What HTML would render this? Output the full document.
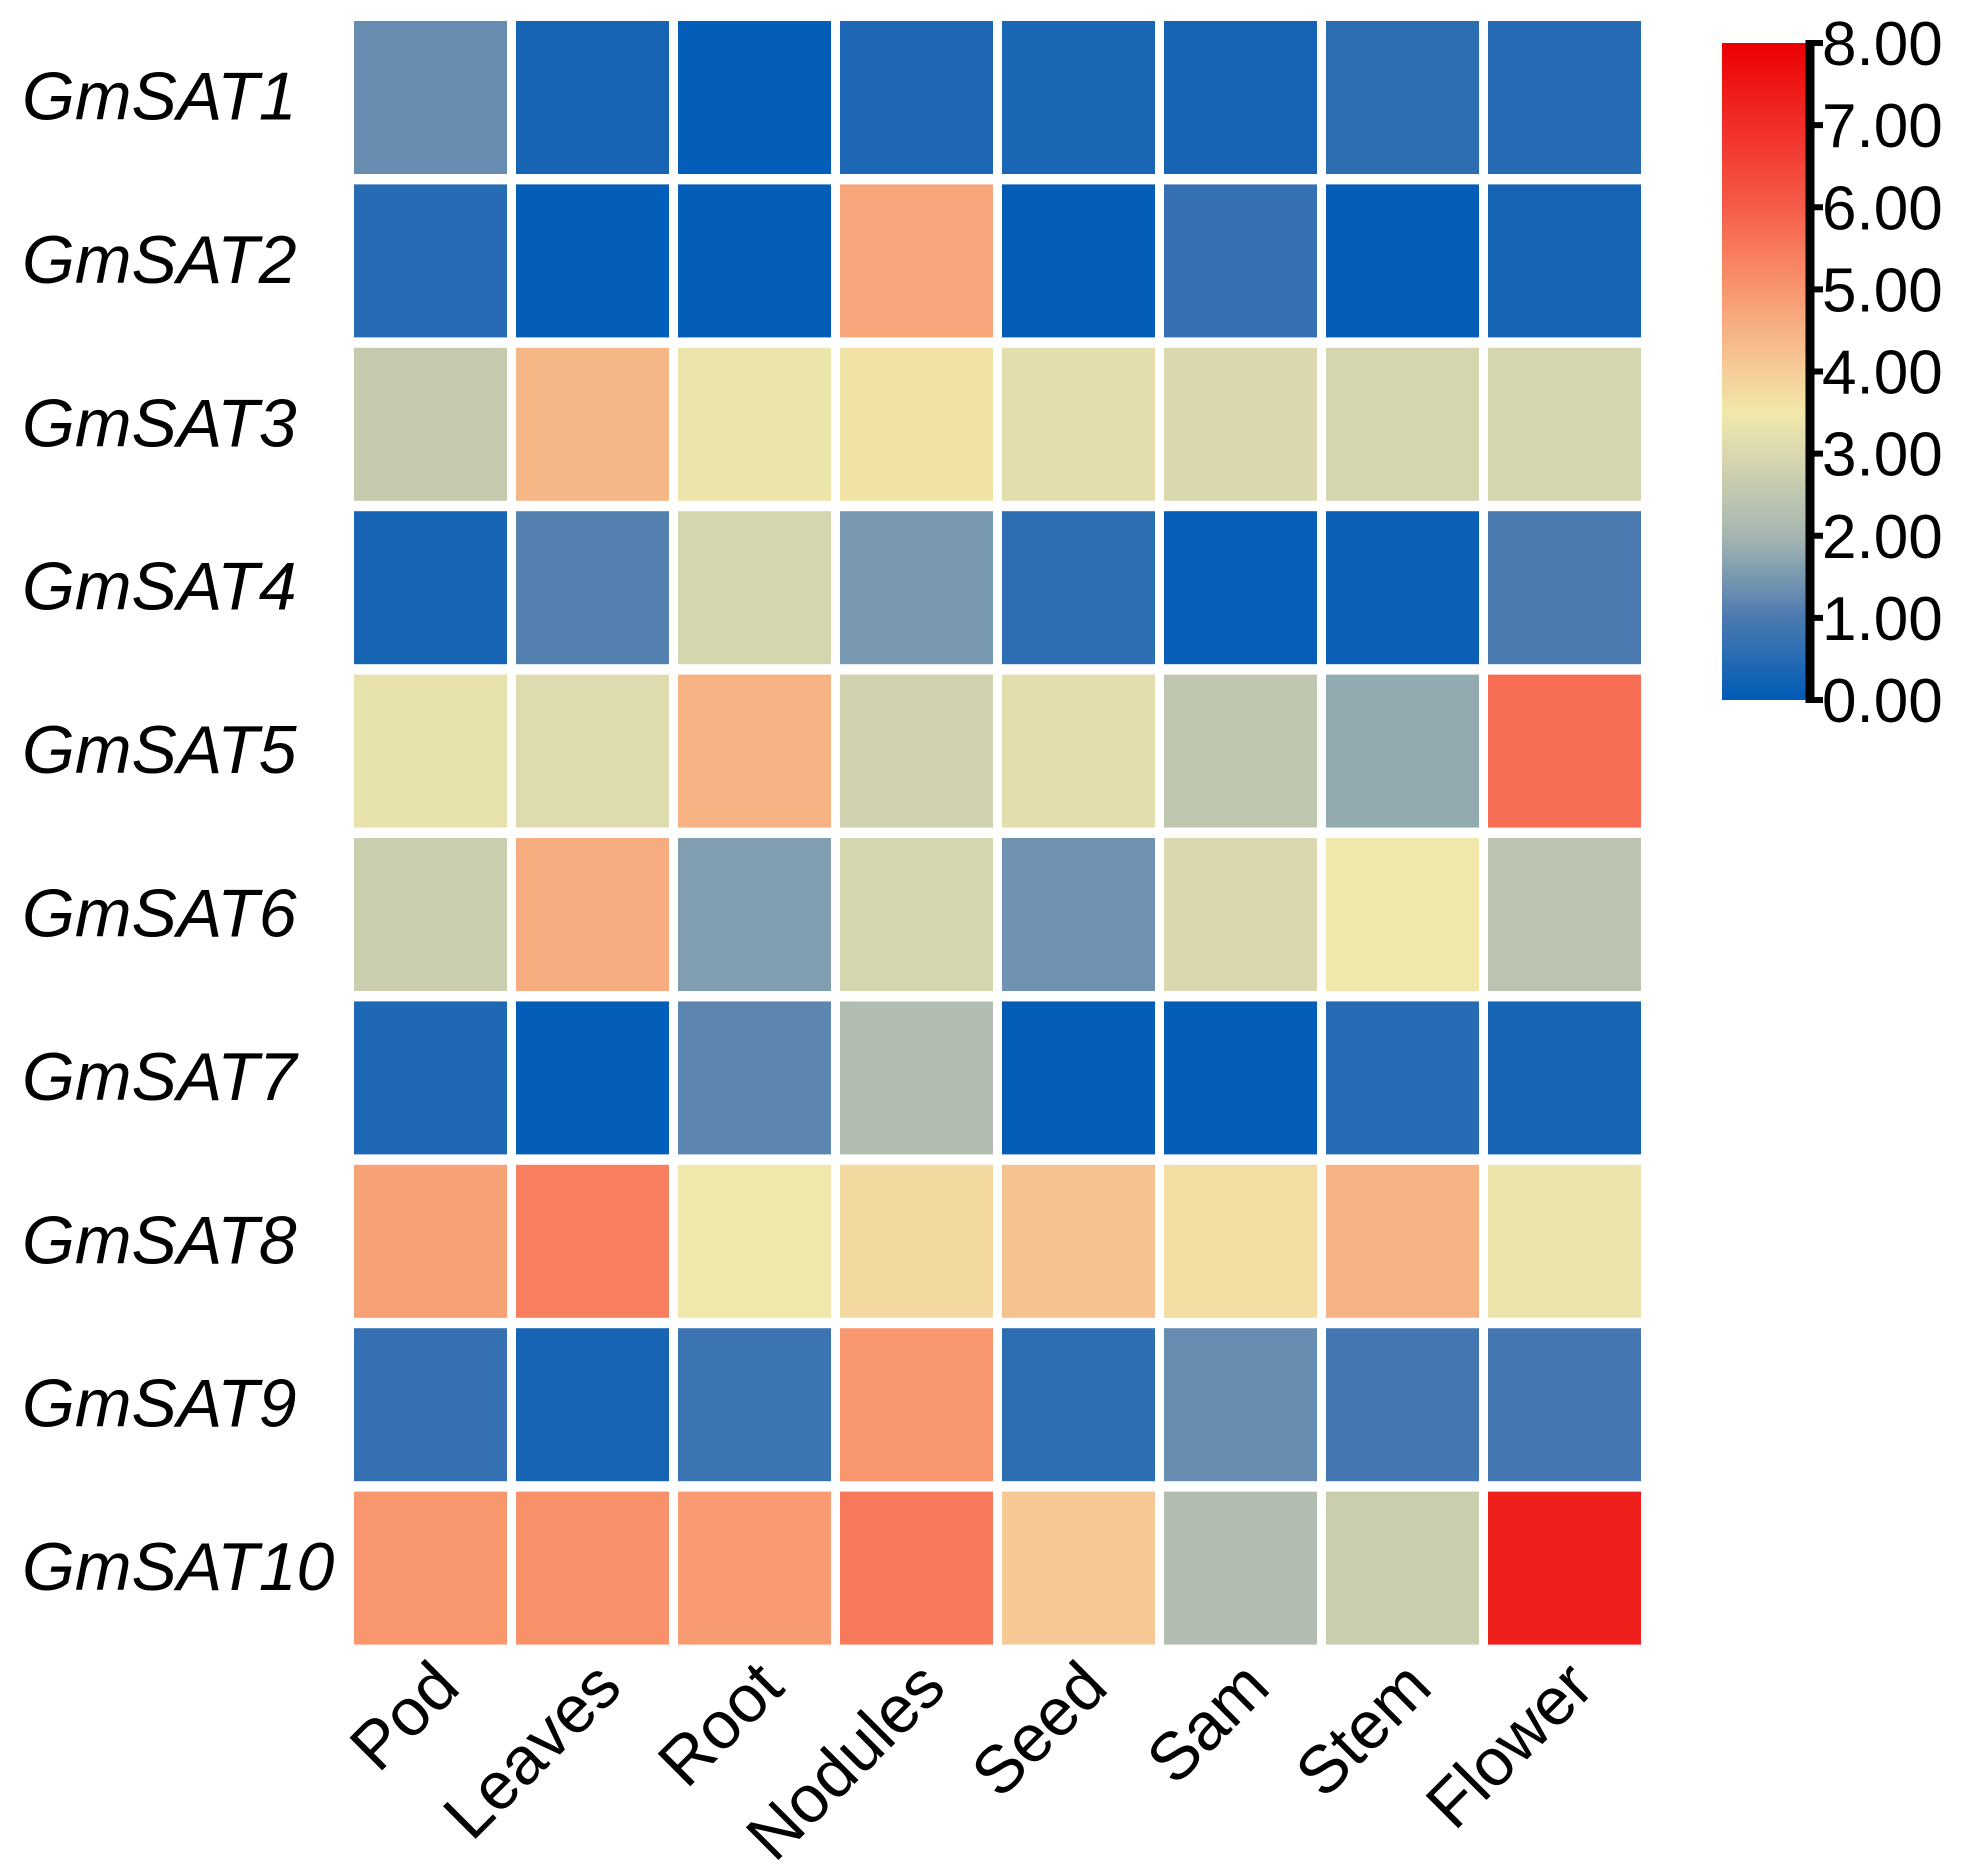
<!DOCTYPE html>
<html><head><meta charset="utf-8">
<style>html,body{margin:0;padding:0;background:#fff}svg{display:block}text{font-family:"Liberation Sans",Arial,sans-serif;fill:#000}</style>
</head><body>
<svg id="chart" width="1967" height="1872" viewBox="0 0 1967 1872" xmlns="http://www.w3.org/2000/svg">
<defs><linearGradient id="cbg" x1="0" y1="1" x2="0" y2="0"></linearGradient></defs>
<g id="cells"></g><g id="ylabels"></g><g id="xlabels"></g><g id="cbar"></g>
</svg>
<script>
const genes = ["GmSAT1","GmSAT2","GmSAT3","GmSAT4","GmSAT5","GmSAT6","GmSAT7","GmSAT8","GmSAT9","GmSAT10"];
const tissues = ["Pod","Leaves","Root","Nodules","Seed","Sam","Stem","Flower"];
const values = [
 [1.3,0.3,0.05,0.4,0.35,0.3,0.6,0.5],
 [0.5,0.05,0.05,4.7,0.05,0.7,0.05,0.3],
 [2.6,4.4,3.4,3.6,3.2,3.0,2.9,2.9],
 [0.3,1.1,2.9,1.5,0.6,0.1,0.15,1.0],
 [3.3,3.1,4.5,2.8,3.2,2.5,1.8,5.7],
 [2.7,4.6,1.6,2.9,1.4,3.0,3.5,2.4],
 [0.4,0.05,1.2,2.2,0.05,0.05,0.5,0.3],
 [4.8,5.4,3.5,3.8,4.2,3.7,4.5,3.4],
 [0.7,0.3,0.8,5.0,0.6,1.3,0.9,0.9],
 [5.0,5.1,4.9,5.5,4.1,2.2,2.7,7.3]
];
const cbTicks = ["0.00","1.00","2.00","3.00","4.00","5.00","6.00","7.00","8.00"];
const vmin = 0, vmax = 8;
const stops = [[0,[0,91,183]],[1,[75,122,176]],[2,[165,182,176]],[3,[218,216,175]],[3.5,[240,232,170]],[4,[245,205,152]],[5,[248,150,110]],[6,[245,92,72]],[7,[240,45,40]],[8,[235,0,0]]];
function color(v){
  v=Math.max(vmin,Math.min(vmax,v));
  for(let i=0;i<stops.length-1;i++){const a=stops[i],b=stops[i+1];
    if(v<=b[0]){const t=(v-a[0])/(b[0]-a[0]);const c=a[1].map((x,k)=>Math.round(x+(b[1][k]-x)*t));return `rgb(${c})`;}}
  return `rgb(${stops[stops.length-1][1]})`;
}
const NS="http://www.w3.org/2000/svg";
const x0=354,y0=21,pitchX=162,pitchY=163.4,cw=153,ch=153;
const xPos=j=>x0+j*pitchX, yPos=i=>y0+i*pitchY;
function mk(tag,attrs,parent){const e=document.createElementNS(NS,tag);for(const k in attrs)e.setAttribute(k,attrs[k]);parent.appendChild(e);return e;}
const cells=document.getElementById('cells');
values.forEach((row,i)=>row.forEach((v,j)=>{
  const r=mk('rect',{x:xPos(j),y:yPos(i),width:cw,height:ch,fill:color(v)},cells);
  
  
}));
const yl=document.getElementById('ylabels');
genes.forEach((g,i)=>{
  const t=mk('text',{x:22,y:yPos(i)+ch/2+22,'font-size':68,'font-style':'italic'},yl);
  t.textContent=g;
  
  
});
const xl=document.getElementById('xlabels');
tissues.forEach((s,j)=>{
  const cx=xPos(j)+cw/2+32, cy=1690;
  const t=mk('text',{x:cx,y:cy,'font-size':67,'text-anchor':'end',transform:`rotate(-45 ${cx} ${cy})`},xl);
  t.textContent=s;
  
  
});
const grad=document.getElementById('cbg');
for(let k=0;k<=80;k++){const v=vmin+(vmax-vmin)*k/80;mk('stop',{offset:(k/80),'stop-color':color(v)},grad);}
const cb=document.getElementById('cbar');
const cbX=1722,cbW=84,cbTop=43,cbBot=700;
const cbY=v=>cbBot-(v-vmin)/(vmax-vmin)*(cbBot-cbTop);
const bar=mk('rect',{x:cbX,y:cbTop,width:cbW,height:cbBot-cbTop,fill:'url(#cbg)'},cb);


const axis=mk('line',{x1:cbX+cbW+4,x2:cbX+cbW+4,y1:cbTop-3,y2:cbBot+3,stroke:'#000','stroke-width':9},cb);


cbTicks.forEach(lbl=>{
  const y=cbY(parseFloat(lbl));
  const tk=mk('line',{x1:cbX+cbW+4,x2:cbX+cbW+17,y1:y,y2:y,stroke:'#000','stroke-width':6},cb);
  
  
  const t=mk('text',{x:cbX+cbW+16,y:y+22,'font-size':62},cb);
  t.textContent=lbl;
  
  
});
</script>
</body></html>
